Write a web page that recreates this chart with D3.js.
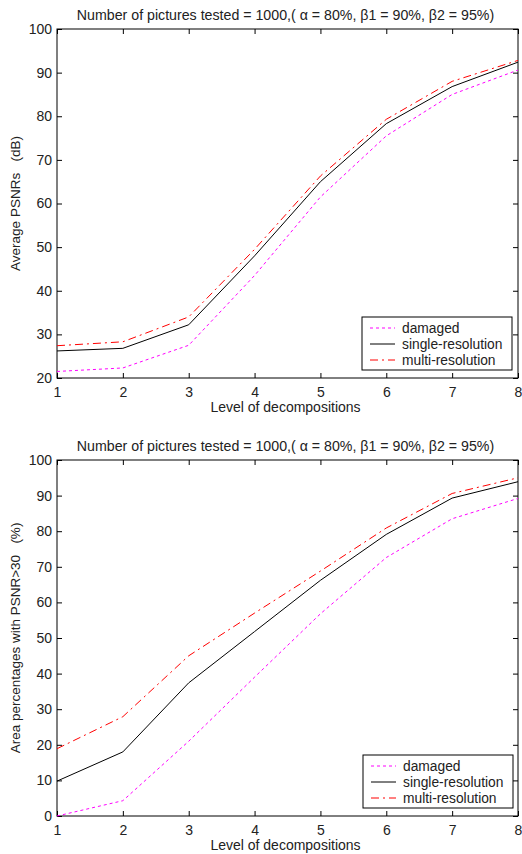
<!DOCTYPE html>
<html lang="en">
<head>
<meta charset="UTF-8">
<title>PSNR curves</title>
<style>
  body { margin: 0; background: #fff; }
  svg { display: block; font-family: "Liberation Sans", Arial, sans-serif; }
</style>
</head>
<body>
<svg id="chart" width="522" height="854"></svg>
<script src="https://cdn.jsdelivr.net/npm/d3@7"></script>
<script>
var levels = [1, 2, 3, 4, 5, 6, 7, 8];
var seriesNames = ["damaged", "single-resolution", "multi-resolution"];

// average PSNR (dB)
var psnrDamaged = [21.5, 22.3, 27.5, 43.5, 61.5, 75.5, 85.0, 90.6];
var psnrSingle  = [26.2, 26.8, 32.2, 48.0, 65.0, 78.3, 86.8, 92.4];
var psnrMulti   = [27.4, 28.3, 34.0, 49.5, 66.3, 79.3, 88.0, 92.8];

// area percentages with PSNR > 30
var areaDamaged = [0.0, 4.3, 21.0, 39.0, 56.8, 72.6, 83.5, 89.2];
var areaSingle  = [9.8, 18.0, 37.4, 51.8, 66.2, 79.1, 89.3, 93.9];
var areaMulti   = [18.9, 27.9, 45.0, 57.0, 68.8, 80.9, 90.6, 95.0];

var titleText = "Number of pictures tested = 1000,( \u03b1 = 80%, \u03b21 = 90%, \u03b22 = 95%)";
var xLabel = "Level of decompositions";

var styles = [
  { color: "#ff00ff", dash: "3,3" },
  { color: "#000000", dash: null },
  { color: "#ff0000", dash: "8,4,2,4" }
];

var svg = d3.select("#chart");

function drawPanel(top, bottom, yDomain, series, yLabel, legendBox) {
  var left = 57, right = 518;
  var x = d3.scaleLinear().domain([1, 8]).range([left, right]);
  var y = d3.scaleLinear().domain(yDomain).range([bottom, top]);
  var g = svg.append("g");

  // title
  g.append("text")
    .attr("x", (left + right) / 2 - 2).attr("y", top - 9)
    .attr("text-anchor", "middle").attr("font-size", 14.2).attr("fill", "#222")
    .text(titleText);

  // frame
  g.append("rect")
    .attr("x", left).attr("y", top)
    .attr("width", right - left).attr("height", bottom - top)
    .attr("fill", "none").attr("stroke", "#000").attr("stroke-width", 1);

  // axes, ticks drawn inward like Matlab
  var xAxis = g.append("g").attr("transform", "translate(0," + bottom + ")")
    .call(d3.axisBottom(x).tickValues(levels).tickSize(-5).tickPadding(9).tickFormat(d3.format("d")));
  var xTop = g.append("g").attr("transform", "translate(0," + top + ")")
    .call(d3.axisTop(x).tickValues(levels).tickSize(-5).tickFormat(""));
  var yTicks = d3.range(yDomain[0], yDomain[1] + 1, 10);
  var yAxis = g.append("g").attr("transform", "translate(" + left + ",0)")
    .call(d3.axisLeft(y).tickValues(yTicks).tickSize(-5).tickPadding(5));
  var yRight = g.append("g").attr("transform", "translate(" + right + ",0)")
    .call(d3.axisRight(y).tickValues(yTicks).tickSize(-5).tickFormat(""));
  [xAxis, xTop, yAxis, yRight].forEach(function (a) {
    a.select(".domain").remove();
    a.selectAll("line").attr("stroke", "#000");
    a.selectAll("text").attr("font-size", 14).attr("fill", "#222")
      .attr("font-family", "\"Liberation Sans\", Arial, sans-serif");
  });

  // axis labels
  g.append("text")
    .attr("x", (left + right) / 2 - 2).attr("y", bottom + 34)
    .attr("text-anchor", "middle").attr("font-size", 14).attr("fill", "#222")
    .text(xLabel);
  g.append("text")
    .attr("transform", "translate(20," + (top + bottom) / 2 + ") rotate(-90)")
    .attr("text-anchor", "middle").attr("font-size", 13.5).attr("fill", "#222")
    .attr("xml:space", "preserve")
    .text(yLabel);

  // lines
  var line = d3.line()
    .x(function (d, i) { return x(levels[i]); })
    .y(function (d) { return y(d); });
  series.forEach(function (s, i) {
    g.append("path")
      .attr("d", line(s))
      .attr("fill", "none")
      .attr("stroke", styles[i].color)
      .attr("stroke-width", 1)
      .attr("stroke-dasharray", styles[i].dash);
  });

  // legend
  var lg = g.append("g");
  lg.append("rect")
    .attr("x", legendBox[0]).attr("y", legendBox[1])
    .attr("width", 150).attr("height", 53)
    .attr("fill", "#fff").attr("stroke", "#000").attr("stroke-width", 1);
  seriesNames.forEach(function (name, i) {
    var yy = legendBox[1] + 11 + i * 16;
    lg.append("line")
      .attr("x1", legendBox[0] + 8).attr("x2", legendBox[0] + 33)
      .attr("y1", yy).attr("y2", yy)
      .attr("stroke", styles[i].color).attr("stroke-dasharray", styles[i].dash);
    lg.append("text")
      .attr("x", legendBox[0] + 40).attr("y", yy + 5)
      .attr("font-size", 13.8).attr("fill", "#222")
      .text(name);
  });
}

drawPanel(29, 378, [20, 100], [psnrDamaged, psnrSingle, psnrMulti],
  "Average PSNRs   (dB)", [362, 317]);
drawPanel(460, 816, [0, 100], [areaDamaged, areaSingle, areaMulti],
  "Area percentages with PSNR>30   (%)", [363, 755]);
</script>
</body>
</html>
